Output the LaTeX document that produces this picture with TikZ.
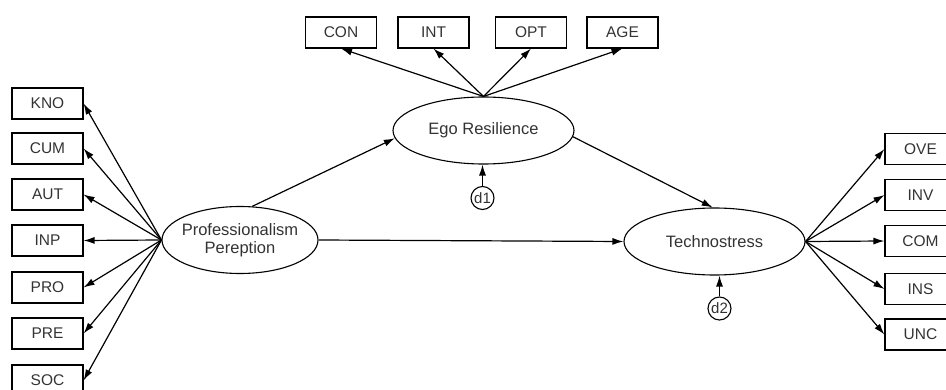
\documentclass[tikz,border=0pt]{standalone}
\usepackage{fontspec}
\setmainfont{Liberation Sans}
\usetikzlibrary{arrows.meta,shapes.geometric}
\definecolor{txt}{HTML}{333333}
\tikzset{
  obs/.style={draw, line width=1.1pt, rectangle, minimum width=71pt, minimum height=31pt, inner sep=0pt, font=\fontsize{15.5}{17}\selectfont, text=txt},
  lat/.style={draw, line width=1.1pt, ellipse, inner sep=0pt, font=\fontsize{16.5}{18.5}\selectfont, text=txt, align=center},
  err/.style={draw, line width=1.1pt, circle, minimum size=23pt, inner sep=0pt, font=\fontsize{15}{16}\selectfont, text=txt},
  arr/.style={line width=1.2pt, -{Latex[length=11pt,width=7pt]}}
}
\begin{document}
\begin{tikzpicture}[x=1pt,y=-1pt]
\useasboundingbox (0,0) rectangle (946,390);
% latent variables
\node[lat, minimum width=156pt, minimum height=67pt, inner xsep=-4pt] (prof) at (240,240) {Professionalism\\Pereption};
\node[lat, minimum width=181pt, minimum height=67pt] (ego) at (483.5,130.5) {Ego Resilience};
\node[lat, minimum width=181pt, minimum height=67pt] (tech) at (714.5,241.5) {Technostress};
% disturbances
\node[err] (d1) at (482.5,198) {d1};
\node[err] (d2) at (719.5,308.5) {d2};
% left indicators
\node[obs] (kno) at (47.5,103.5) {KNO};
\node[obs] (cum) at (47.5,148.5) {CUM};
\node[obs] (aut) at (47.5,194.5) {AUT};
\node[obs] (inp) at (47.5,240.5) {INP};
\node[obs] (pro) at (47.5,287.5) {PRO};
\node[obs] (pre) at (47.5,333.5) {PRE};
\node[obs] (soc) at (47.5,380.5) {SOC};
% top indicators
\node[obs] (con) at (341,32.5) {CON};
\node[obs] (int) at (433.5,32.5) {INT};
\node[obs] (opt) at (531,32.5) {OPT};
\node[obs] (age) at (622.5,32.5) {AGE};
% right indicators
\node[obs] (ove) at (920.5,149) {OVE};
\node[obs] (inv) at (920.5,195) {INV};
\node[obs] (com) at (920.5,241) {COM};
\node[obs] (ins) at (920.5,289) {INS};
\node[obs] (unc) at (920.5,334.5) {UNC};
% loadings
\foreach \b in {kno,cum,aut,inp,pro,pre,soc} \draw[arr] (prof.west) -- (\b.east);
\foreach \b in {con,int,opt,age} \draw[arr] (ego.north) -- (\b.south);
\foreach \b in {ove,inv,com,ins,unc} \draw[arr] (tech.east) -- (\b.west);
% structural paths
\draw[arr] (prof.70) -- (ego.185);
\draw[arr] (ego.-4) -- (tech.93);
\draw[arr] (prof.east) -- (tech.west);
\draw[arr] (d1.north) -- (d1.north |- ego.south);
\draw[arr] (d2.north) -- (d2.north |- tech.south);
\end{tikzpicture}
\end{document}
